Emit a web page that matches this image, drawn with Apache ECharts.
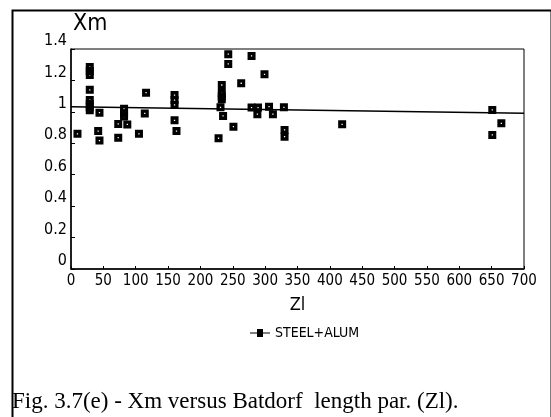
<!DOCTYPE html>
<html>
<head>
<meta charset="utf-8">
<script src="https://cdn.jsdelivr.net/npm/echarts@6/dist/echarts.min.js"></script>
<style>html,body{margin:0;padding:0;background:#fff}#c{width:551px;height:417px}</style>
</head>
<body>
<div id="c"></div>
<script>
// Data
const zl = [10, 29, 29, 29, 29, 29, 29, 29, 29, 44, 42, 44, 73, 73, 82, 82, 82, 87, 105, 116, 114,
  160, 160, 160, 160, 163, 243, 243, 279, 263, 233, 233, 233, 233, 231, 235, 251, 228,
  279, 289, 288, 299, 306, 312, 329, 330, 330, 419, 651, 665, 651];
const xm = [0.86, 1.285, 1.26, 1.235, 1.14, 1.075, 1.05, 1.03, 1.01, 0.995, 0.878, 0.817, 0.923, 0.836, 1.02, 0.99, 0.97, 0.92, 0.86, 1.122, 0.99,
  1.107, 1.075, 1.044, 0.946, 0.878, 1.367, 1.305, 1.356, 1.182, 1.171, 1.12, 1.1, 1.08, 1.029, 0.974, 0.906, 0.832,
  1.027, 1.027, 0.985, 1.239, 1.033, 0.985, 1.029, 0.885, 0.842, 0.921, 1.012, 0.927, 0.853];
const trendZl = [0, 700];
const trendXm = [1.033, 0.991];
const xTicks = [0, 50, 100, 150, 200, 250, 300, 350, 400, 450, 500, 550, 600, 650, 700];
const yTicks = [0, 0.2, 0.4, 0.6, 0.8, 1, 1.2, 1.4];
const seriesName = 'STEEL+ALUM';
const caption = 'Fig. 3.7(e) - Xm versus Batdorf  length par. (Zl).';

const pts = zl.map((v, i) => [v, xm[i]]);
const trend = trendZl.map((v, i) => [v, trendXm[i]]);
const sym = 'path://M0,0H10V10H0Z M4.2,4.2V5.8H5.8V4.2Z';
const tickFont = '"DejaVu Sans Condensed", "Liberation Sans Narrow", sans-serif';

const chart = echarts.init(document.getElementById('c'), null, {renderer: 'canvas'});
chart.setOption({
  animation: false,
  backgroundColor: '#fff',
  grid: {left: 71, right: 27, top: 49, bottom: 148, show: true, borderColor: '#000', borderWidth: 1},
  xAxis: {
    type: 'value', min: xTicks[0], max: xTicks[xTicks.length - 1], interval: 50,
    name: 'Zl', nameLocation: 'middle', nameGap: 27,
    nameTextStyle: {fontFamily: tickFont, fontSize: 18, color: '#000'},
    axisLine: {lineStyle: {color: '#000', width: 1.5}},
    axisTick: {show: true, inside: true, length: 3, lineStyle: {color: '#000'}},
    axisLabel: {color: '#000', fontFamily: tickFont, fontSize: 15, margin: 5,
      formatter: v => xTicks.includes(v) ? String(v) : ''},
    splitLine: {show: false}
  },
  yAxis: {
    type: 'value', min: yTicks[0], max: yTicks[yTicks.length - 1], interval: 0.2,
    name: 'Xm', nameLocation: 'end', nameGap: 13,
    nameTextStyle: {fontFamily: tickFont, fontSize: 23, color: '#000', align: 'left', verticalAlign: 'bottom', padding: [0, 0, 0, 2]},
    axisLine: {lineStyle: {color: '#000', width: 1.5}},
    axisTick: {show: true, inside: true, length: 4, lineStyle: {color: '#000'}},
    axisLabel: {color: '#000', fontFamily: tickFont, fontSize: 16, margin: 4, verticalAlign: 'bottom',
      formatter: v => { const t = yTicks.find(y => Math.abs(y - v) < 1e-6); return t === undefined ? '' : String(t); }},
    splitLine: {show: false}
  },
  legend: {
    data: [seriesName], left: 245, top: 321, icon: 'path://M0,4.6H7V1H13V4.6H20V5.4H13V9H7V5.4H0Z',
    itemWidth: 20, itemHeight: 9, itemGap: 6,
    textStyle: {fontFamily: tickFont, fontSize: 14, color: '#000'}
  },
  series: [
    {name: seriesName, type: 'scatter', data: pts, symbol: sym, symbolSize: 8,
      itemStyle: {color: '#000', opacity: 1}},
    {name: 'trend', type: 'line', data: trend, symbol: 'none',
      lineStyle: {color: '#000', width: 1.5}}
  ],
  graphic: [
    {type: 'rect', left: 10, top: 8, shape: {width: 539, height: 430},
      style: {fill: 'none', stroke: '#000', lineWidth: 2}, silent: true},
    {type: 'text', left: 12, top: 390,
      style: {text: caption, font: '23px "Liberation Serif", "Times New Roman", serif', fill: '#000'}}
  ]
});
</script>
</body>
</html>
